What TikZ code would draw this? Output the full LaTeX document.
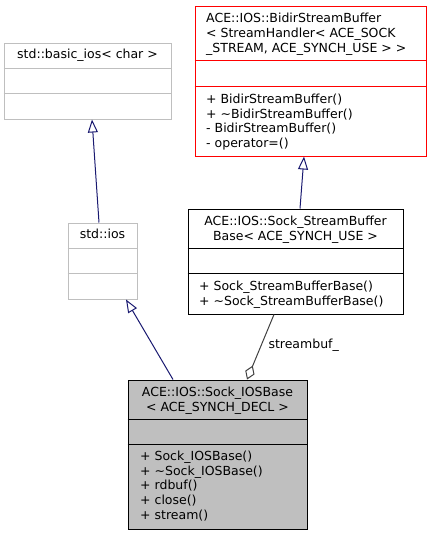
\documentclass[tikz,border=0pt]{standalone}
\usepackage{fontspec}
\setmainfont{DejaVu Sans}
\usetikzlibrary{arrows.meta}
\definecolor{edgenavy}{HTML}{191970}
\definecolor{stdgrey}{HTML}{BFBFBF}
\definecolor{aggrgrey}{HTML}{404040}

\begin{document}
\begin{tikzpicture}[x=1pt,y=-1pt]
    \useasboundingbox (0,0) rectangle (431,536);
    \begin{scope}[every node/.style={rectangle,draw,line width=1pt,inner sep=0pt}]
        \node[draw=stdgrey,minimum width=167pt,minimum height=76pt] (basicios) at (87.5,81) {};
        \node[draw=red,minimum width=231pt,minimum height=150pt] (bidir) at (310.5,81) {};
        \node[draw=stdgrey,minimum width=69pt,minimum height=76pt] (ios) at (102.5,261) {};
        \node[minimum width=215pt,minimum height=105pt] (sockbuf) at (295.5,261.5) {};
        \node[fill=stdgrey,minimum width=179pt,minimum height=149pt] (iosbase) at (217.5,454.5) {};
    \end{scope}
    % compartments
    \begin{scope}[line width=1pt]
        \draw[stdgrey] ([yshift=-26pt]basicios.north west) -- ([yshift=-26pt]basicios.north east);
        \draw[stdgrey] ([yshift=-51pt]basicios.north west) -- ([yshift=-51pt]basicios.north east);
        \draw[red] ([yshift=-55pt]bidir.north west) -- ([yshift=-55pt]bidir.north east);
        \draw[red] ([yshift=-81pt]bidir.north west) -- ([yshift=-81pt]bidir.north east);
        \draw[stdgrey] ([yshift=-26pt]ios.north west) -- ([yshift=-26pt]ios.north east);
        \draw[stdgrey] ([yshift=-51pt]ios.north west) -- ([yshift=-51pt]ios.north east);
        \draw ([yshift=-40pt]sockbuf.north west) -- ([yshift=-40pt]sockbuf.north east);
        \draw ([yshift=-65pt]sockbuf.north west) -- ([yshift=-65pt]sockbuf.north east);
        \draw ([yshift=-40pt]iosbase.north west) -- ([yshift=-40pt]iosbase.north east);
        \draw ([yshift=-65pt]iosbase.north west) -- ([yshift=-65pt]iosbase.north east);
    \end{scope}
    \begin{scope}[every node/.style={inner sep=0pt,font=\fontsize{12.5}{14.6}\selectfont}]
        \node[anchor=base] (basicios-name) at (87.5,58.8) {std::basic\_ios< char >};
        \node[anchor=north west,align=left] (bidir-name) at (206,13.3)
            {ACE::IOS::BidirStreamBuffer\\< StreamHandler< ACE\_SOCK\\\_STREAM, ACE\_SYNCH\_USE > >};
        \node[anchor=north west,align=left] (bidir-ops) at (206,94)
            {+ BidirStreamBuffer()\\+ \textasciitilde BidirStreamBuffer()\\- BidirStreamBuffer()\\- operator=()};
        \node[anchor=base] (ios-name) at (102.5,238.8) {std::ios};
        \node[anchor=north,align=center] (sockbuf-name) at (295.5,215.7)
            {ACE::IOS::Sock\_StreamBuffer\\Base< ACE\_SYNCH\_USE >};
        \node[anchor=north west,align=left] (sockbuf-ops) at (199,280.7)
            {+ Sock\_StreamBufferBase()\\+ \textasciitilde Sock\_StreamBufferBase()};
        \node[anchor=north,align=center] (iosbase-name) at (217.5,386.7)
            {ACE::IOS::Sock\_IOSBase\\< ACE\_SYNCH\_DECL >};
        \node[anchor=north west,align=left] (iosbase-ops) at (140,451)
            {+ Sock\_IOSBase()\\+ \textasciitilde Sock\_IOSBase()\\+ rdbuf()\\+ close()\\+ stream()};
    \end{scope}
    \begin{scope}[
        every node/.style={inner sep=0pt,font=\fontsize{12.5}{14.6}\selectfont},
        every edge/.style={-{Triangle[open,length=13pt,width=10pt]},draw=edgenavy,line width=1pt}]
        \path ([xshift=-3.5pt]ios.north) edge ([xshift=4.5pt]basicios.south);
        \path ([xshift=4.5pt]sockbuf.north) edge ([xshift=-6.5pt]bidir.south);
        \path ([xshift=-44.5pt]iosbase.north) edge ([xshift=23.5pt]ios.south);
        \path ([xshift=-21.5pt]sockbuf.south) edge[draw=aggrgrey,-{Diamond[open,length=15pt,width=10pt]}]
            node[anchor=west,xshift=7.5pt,yshift=2pt] (streambuf-label) {streambuf\_} ([xshift=29.5pt]iosbase.north);
    \end{scope}
\end{tikzpicture}
\end{document}
